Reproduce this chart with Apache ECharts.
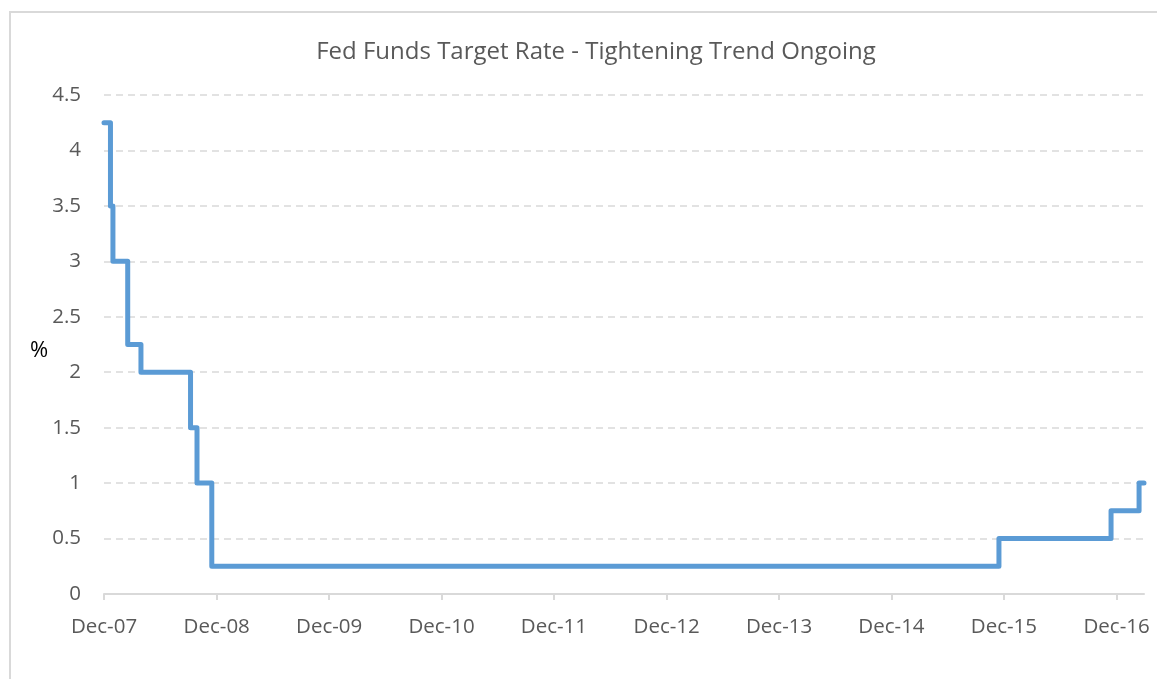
<!DOCTYPE html>
<html>
<head>
<meta charset="utf-8">
<script src="https://cdn.jsdelivr.net/npm/echarts@6/dist/echarts.min.js"></script>
<style>
html, body { margin: 0; padding: 0; background: #fff; }
#chart { width: 1157px; height: 679px; }
</style>
</head>
<body>
<div id="chart"></div>
<script>
// rate change dates and target rate (upper bound) after each change
var dates = ['2008-01-01', '2008-01-22', '2008-01-30', '2008-03-18', '2008-04-30', '2008-10-08',
	'2008-10-29', '2008-12-16', '2015-12-16', '2016-12-14', '2017-03-15', '2017-03-31'];
var rates = [4.25, 3.5, 3.0, 2.25, 2.0, 1.5, 1.0, 0.25, 0.5, 0.75, 1.0, 1.0];
var yTicks = [0, 0.5, 1, 1.5, 2, 2.5, 3, 3.5, 4, 4.5];

var FONT = '"Open Sans", sans-serif';
var YEAR = 365 * 24 * 3600 * 1000;

var seriesData = dates.map(function(d, i) {
	return [d, rates[i]];
});

var myChart = echarts.init(document.getElementById('chart'));
var option = {
	animation: false,
	title: {
		text: 'Fed Funds Target Rate - Tightening Trend Ongoing',
		left: 591,
		top: 35,
		textAlign: 'center',
		textStyle: {
			fontFamily: FONT,
			fontSize: 24,
			fontWeight: 'normal',
			color: '#595959'
		}
	},
	graphic: [{
		type: 'rect',
		shape: { x: 10, y: 12, width: 1300, height: 800 },
		style: { fill: 'none', stroke: '#d9d9d9', lineWidth: 2 },
		silent: true
	}, {
		type: 'text',
		x: 39,
		y: 351,
		style: {
			text: '%',
			fontFamily: FONT,
			fontSize: 22,
			fill: '#000',
			align: 'center',
			verticalAlign: 'middle'
		},
		silent: true
	}],
	grid: {
		left: 104,
		right: 13,
		top: 95,
		bottom: 85
	},
	xAxis: {
		type: 'time',
		min: dates[0],
		max: dates[dates.length - 1],
		minInterval: YEAR,
		maxInterval: YEAR + 24 * 3600 * 1000,
		axisLine: { lineStyle: { color: '#d9d9d9', width: 2 } },
		axisTick: { show: true, length: 6, lineStyle: { color: '#d9d9d9', width: 2 } },
		splitLine: { show: false },
		axisLabel: {
			margin: 23,
			fontFamily: FONT,
			fontSize: 20.5,
			color: '#595959',
			showMaxLabel: false,
			formatter: function(v) {
				var y = new Date(v).getFullYear() - 1;
				return 'Dec-' + String(y).slice(-2);
			}
		}
	},
	yAxis: {
		type: 'value',
		min: yTicks[0],
		max: yTicks[yTicks.length - 1],
		interval: 0.5,
		axisLine: { show: false },
		axisTick: { show: false },
		axisLabel: {
			margin: 23,
			fontFamily: FONT,
			fontSize: 20.5,
			color: '#595959'
		},
		splitLine: {
			lineStyle: { color: '#d9d9d9', width: 1.5, type: [7, 5] }
		}
	},
	series: [{
		name: 'Fed Funds Target Rate',
		type: 'line',
		step: 'end',
		showSymbol: false,
		lineStyle: {
			color: '#5b9bd5',
			width: 5,
			cap: 'round',
			join: 'round'
		},
		data: seriesData
	}]
};
myChart.setOption(option);
</script>
</body>
</html>
